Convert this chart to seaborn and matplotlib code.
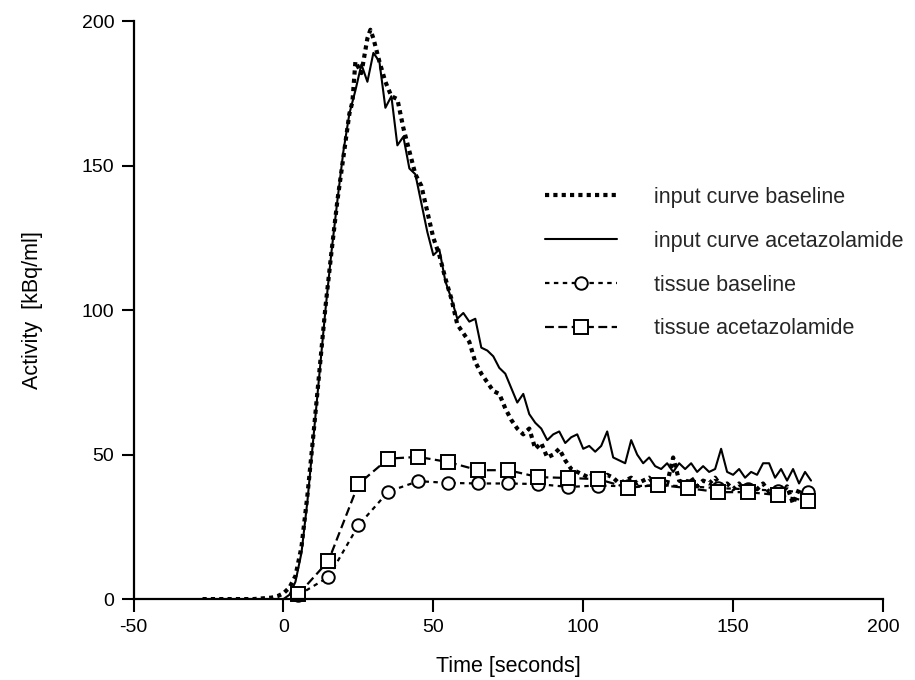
import numpy as np
import pandas as pd
import matplotlib
matplotlib.use("Agg")
import matplotlib.pyplot as plt
import seaborn as sns

# ---------------- data ----------------
t_base = [-27, -20, -10, -4, -2, 0, 2, 4, 6, 8, 10, 12, 14, 16, 18, 20, 22, 23, 24, 26, 28, 29,
          30, 32, 34, 36, 38, 40, 42, 44, 46, 48, 50, 52, 54, 56, 58, 60, 62, 64, 66, 68, 70,
          72, 74, 76, 78, 80, 82, 84, 86, 88, 90, 92, 94, 96, 98, 100, 102, 104, 106, 108, 110,
          112, 114, 116, 118, 120, 122, 124, 126, 128, 130, 132, 134, 136, 138, 140, 142, 144,
          146, 148, 150, 152, 154, 156, 158, 160, 162, 164, 166, 168, 170, 172, 174, 176]
input_baseline = [0, 0, 0, 0.5, 1, 2, 4, 8, 18, 36, 57, 79, 101, 120, 138, 153, 168, 172, 186,
                  182, 194, 197, 194, 186, 179, 174, 173, 163, 155, 147, 143, 134, 125, 119, 111,
                  104, 95, 92, 89, 82, 78, 75, 72, 71, 66, 62, 59, 57, 59, 52, 54, 49, 50, 52, 48,
                  45, 44, 43, 42, 44, 41, 43, 42, 40, 41, 42, 40, 41, 42, 39, 41, 40, 49, 41, 40,
                  42, 39, 41, 40, 42, 39, 40, 38, 40, 37, 39, 38, 40, 37, 38, 36, 39, 33, 38, 36, 37]

t_acet = list(range(0, 178, 2))
input_acet = [0, 1.5, 6, 16, 34, 56, 78, 100, 120, 138, 155, 168, 176, 185, 179, 189, 186, 170,
              174, 157, 160, 149, 147, 137, 127, 119, 121, 110, 104, 97, 99, 96, 97, 87, 86, 84,
              80, 78, 73, 68, 71, 64, 61, 59, 55, 57, 58, 54, 56, 57, 52, 53, 51, 53, 58, 49, 48,
              47, 55, 50, 47, 49, 46, 45, 47, 44, 47, 45, 47, 44, 46, 44, 45, 52, 44, 43, 45, 42,
              44, 43, 47, 47, 42, 45, 41, 45, 40, 44, 41]

t_tissue = [5, 15, 25, 35, 45, 55, 65, 75, 85, 95, 105, 115, 125, 135, 145, 155, 165, 175]
tissue_baseline = [1.4, 7.6, 25.5, 37.2, 40.8, 40.2, 40.0, 40.0, 39.8, 38.8, 39.3, 39.0, 39.4,
                   39.0, 38.4, 38.0, 37.5, 37.0]
tissue_acet = [1.7, 13.2, 39.8, 48.6, 49.2, 47.4, 44.6, 44.6, 42.2, 41.9, 41.5, 38.5, 39.5,
               38.4, 37.0, 37.0, 36.0, 33.8]

labels = ["input curve baseline", "input curve acetazolamide",
          "tissue baseline", "tissue acetazolamide"]
xticks = [-50, 0, 50, 100, 150, 200]
yticks = [0, 50, 100, 150, 200]

# ---------------- plot ----------------
sns.set_style("ticks")
plt.rcParams["font.family"] = ["Liberation Sans", "DejaVu Sans"]
plt.rcParams["axes.unicode_minus"] = False

fig = plt.figure(figsize=(9.15, 6.8), dpi=100)
ax = fig.add_axes([0.146, 0.119, 0.819, 0.850])

sns.lineplot(x=t_base, y=input_baseline, ax=ax, color="black", lw=3.0,
             linestyle=(0, (1, 1)), label=labels[0], sort=False, estimator=None)
sns.lineplot(x=t_acet, y=input_acet, ax=ax, color="black", lw=1.5,
             linestyle="-", label=labels[1], sort=False, estimator=None)
sns.lineplot(x=t_tissue, y=tissue_baseline, ax=ax, color="black", lw=1.6,
             linestyle=(0, (2, 2)), marker="o", markersize=9, markerfacecolor="white",
             markeredgecolor="black", markeredgewidth=1.4, label=labels[2],
             sort=False, estimator=None, clip_on=False)
sns.lineplot(x=t_tissue, y=tissue_acet, ax=ax, color="black", lw=1.6,
             linestyle=(0, (4, 2)), marker="s", markersize=9.5, markerfacecolor="white",
             markeredgecolor="black", markeredgewidth=1.4, label=labels[3],
             sort=False, estimator=None, clip_on=False)

ax.set_xlim(-50, 200)
ax.set_ylim(0, 200)
ax.set_xticks(xticks)
ax.set_yticks(yticks)
ax.set_xticklabels([str(v) for v in xticks])
ax.set_yticklabels([str(v) for v in yticks])
ax.tick_params(axis="both", direction="out", length=9, width=1.5, labelsize=14,
               color="black", labelcolor="black", pad=5)
for side in ["top", "right"]:
    ax.spines[side].set_visible(False)
for side in ["left", "bottom"]:
    ax.spines[side].set_linewidth(1.6)
    ax.spines[side].set_color("black")

ax.set_xlabel("Time [seconds]", fontsize=15.5, labelpad=15, color="black")
ax.set_ylabel("Activity  [kBq/ml]", fontsize=15.5, labelpad=28, color="black")

leg = ax.legend(loc="upper left", bbox_to_anchor=(0.537, 0.728), frameon=False,
                fontsize=15.5, handlelength=3.35, handletextpad=1.75, labelspacing=1.06,
                borderaxespad=0)

fig.savefig("out.png", dpi=100, facecolor="white")
